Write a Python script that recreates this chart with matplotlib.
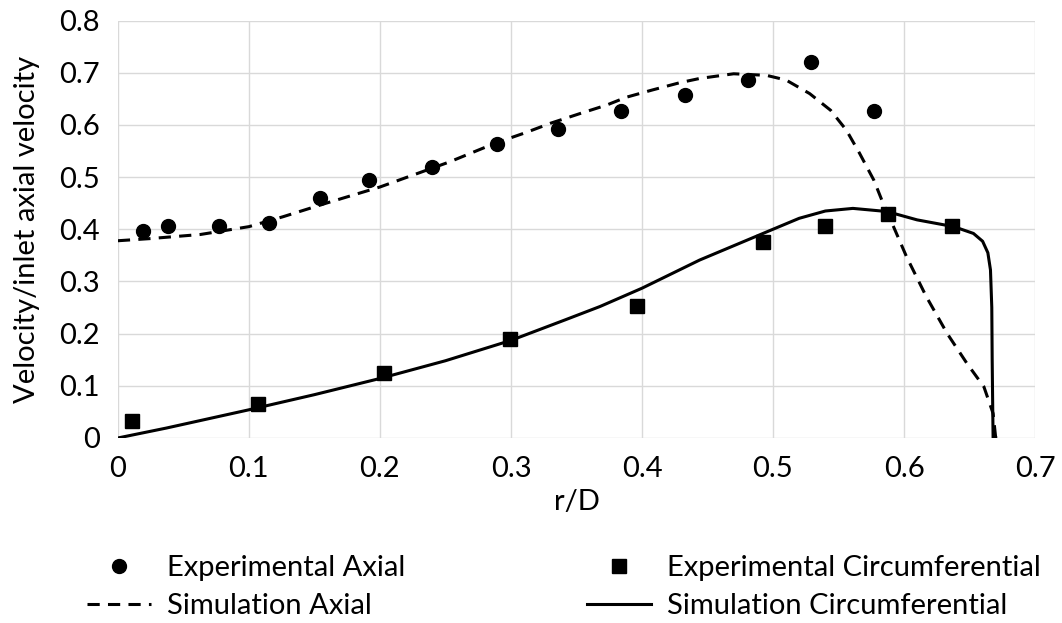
import matplotlib
matplotlib.use('Agg')
import matplotlib.pyplot as plt

plt.rcParams['font.family'] = ['Lato', 'DejaVu Sans']

# Experimental axial (circles)
exp_ax_x = [0.019, 0.038, 0.077, 0.115, 0.154, 0.192, 0.240, 0.289, 0.336, 0.384, 0.433, 0.481, 0.529, 0.577]
exp_ax_y = [0.397, 0.406, 0.406, 0.412, 0.460, 0.494, 0.520, 0.563, 0.593, 0.627, 0.657, 0.687, 0.720, 0.626]

# Experimental circumferential (squares)
exp_ci_x = [0.011, 0.107, 0.203, 0.299, 0.396, 0.492, 0.540, 0.588, 0.637]
exp_ci_y = [0.032, 0.065, 0.125, 0.189, 0.253, 0.376, 0.407, 0.430, 0.406]

# Simulation axial (dashed)
sim_ax_x = [0, 0.024, 0.063, 0.100, 0.126, 0.159, 0.200, 0.253, 0.288, 0.311, 0.330, 0.353,
            0.373, 0.388, 0.408, 0.429, 0.444, 0.470, 0.495, 0.510, 0.528, 0.544, 0.556,
            0.566, 0.577, 0.584, 0.592, 0.602, 0.617, 0.633, 0.648, 0.661, 0.668, 0.670]
sim_ax_y = [0.378, 0.382, 0.390, 0.405, 0.424, 0.450, 0.481, 0.529, 0.565, 0.585, 0.603, 0.622,
            0.638, 0.653, 0.667, 0.681, 0.689, 0.698, 0.695, 0.686, 0.660, 0.628, 0.590,
            0.546, 0.494, 0.450, 0.405, 0.347, 0.271, 0.200, 0.143, 0.098, 0.047, 0.0]

# Simulation circumferential (solid)
sim_ci_x = [0, 0.037, 0.100, 0.150, 0.200, 0.250, 0.300, 0.341, 0.368, 0.400, 0.444, 0.500,
            0.520, 0.540, 0.561, 0.587, 0.610, 0.638, 0.653, 0.660, 0.664, 0.666, 0.667, 0.6673,
            0.6677, 0.668, 0.670]
sim_ci_y = [0, 0.019, 0.054, 0.083, 0.114, 0.148, 0.187, 0.226, 0.252, 0.287, 0.341, 0.400,
            0.421, 0.435, 0.440, 0.434, 0.418, 0.405, 0.392, 0.377, 0.355, 0.322, 0.250, 0.150,
            0.060, 0.0, 0.0]

fig = plt.figure(figsize=(10.62, 6.23), dpi=100)
ax = fig.add_axes([0.111, 0.297, 0.8636, 0.670])

h1, = ax.plot(exp_ax_x, exp_ax_y, 'o', color='black', markersize=10, zorder=4)
h2, = ax.plot(sim_ax_x, sim_ax_y, color='black', lw=2.2, ls=(0, (4, 2.7)), zorder=3)
h3, = ax.plot(exp_ci_x, exp_ci_y, 's', color='black', markersize=10, zorder=4)
h4, = ax.plot(sim_ci_x, sim_ci_y, color='black', lw=2.2, zorder=3)

ax.set_xlim(0, 0.7)
ax.set_ylim(0, 0.8)
ax.set_xticks([0, 0.1, 0.2, 0.3, 0.4, 0.5, 0.6, 0.7])
ax.set_xticklabels(['0', '0.1', '0.2', '0.3', '0.4', '0.5', '0.6', '0.7'])
ax.set_yticks([0, 0.1, 0.2, 0.3, 0.4, 0.5, 0.6, 0.7, 0.8])
ax.set_yticklabels(['0', '0.1', '0.2', '0.3', '0.4', '0.5', '0.6', '0.7', '0.8'])
ax.grid(True, color='#d9d9d9', lw=1)
ax.set_axisbelow(True)
for s in ax.spines.values():
    s.set_visible(False)
ax.tick_params(length=0, labelsize=21, pad=13)

ax.set_xlabel('r/D', fontsize=21, labelpad=5)
ax.set_ylabel('Velocity/inlet axial velocity', fontsize=21, labelpad=14)

leg_kw = dict(loc='upper left', frameon=False, fontsize=21, handlelength=2.2,
              labelspacing=0.4, handletextpad=0.55, borderaxespad=0, borderpad=0)
fig.legend([h1, h2], ['Experimental Axial', 'Simulation Axial'],
           bbox_to_anchor=(87 / 1062, 0.109), **leg_kw)
fig.legend([h3, h4], ['Experimental Circumferential', 'Simulation Circumferential'],
           bbox_to_anchor=(587 / 1062, 0.109), **leg_kw)

fig.savefig('out.png', dpi=100)
